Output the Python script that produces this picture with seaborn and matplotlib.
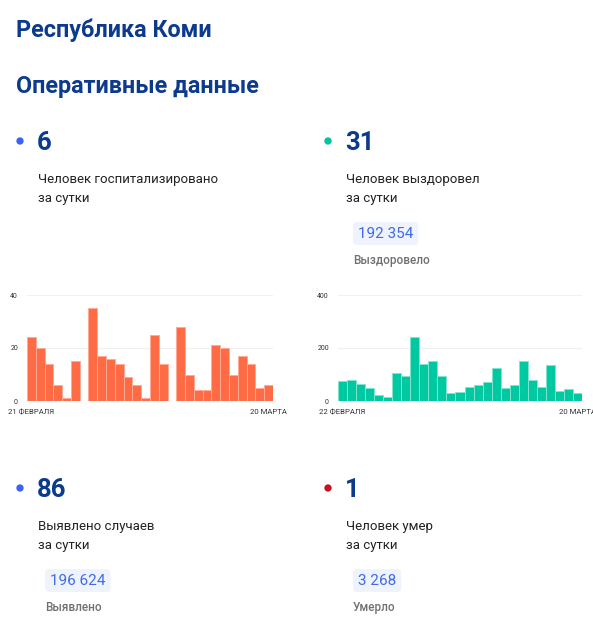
import numpy as np
import pandas as pd
import seaborn as sns
import matplotlib.pyplot as plt
from matplotlib.patches import FancyBboxPatch

# Data
hosp_days = pd.date_range("2021-02-21", "2021-03-20").strftime("%d.%m")
hosp_values = [24, 20, 14, 6, 1, 15, 0, 35, 17, 16, 14, 9, 6, 1, 25, 14, 0,
               28, 10, 4, 4, 21, 20, 10, 17, 14, 5, 6]
hosp_ticks = ["21 ФЕВРАЛЯ", "20 МАРТА"]

recov_days = pd.date_range("2021-02-22", "2021-03-20").strftime("%d.%m")
recov_values = [75, 78, 65, 48, 21, 14, 105, 96, 243, 138, 151, 95, 29, 35,
                54, 61, 72, 126, 49, 61, 152, 78, 54, 135, 38, 46, 31]
recov_ticks = ["22 ФЕВРАЛЯ", "20 МАРТА"]

cards = [
    {"value": "6", "text": ["Человек госпитализировано", "за сутки"],
     "total": None, "label": None, "dot": "#3a63f4"},
    {"value": "31", "text": ["Человек выздоровел", "за сутки"],
     "total": "192 354", "label": "Выздоровело", "dot": "#00c49c"},
    {"value": "86", "text": ["Выявлено случаев", "за сутки"],
     "total": "196 624", "label": "Выявлено", "dot": "#3a63f4"},
    {"value": "1", "text": ["Человек умер", "за сутки"],
     "total": "3 268", "label": "Умерло", "dot": "#c8101e"},
]

sns.set_theme(style="white")
plt.rcParams['font.family'] = ['Roboto', 'DejaVu Sans']

W, H = 593, 621
fig = plt.figure(figsize=(W / 100, H / 100), dpi=100)
fig.patch.set_facecolor("white")

# background axes in pixel coordinates for the text blocks
bg = fig.add_axes([0, 0, 1, 1])
bg.set_xlim(0, W)
bg.set_ylim(H, 0)
bg.axis("off")

navy = "#0c3a8c"
bg.text(16, 37, "Республика Коми", fontsize=16.8, fontweight="bold", color=navy, va="baseline")
bg.text(16, 93, "Оперативные данные", fontsize=16.8, fontweight="bold", color=navy, va="baseline")

fig.canvas.draw()
renderer = fig.canvas.get_renderer()

positions = [(20, 150), (328, 150), (20, 497), (328, 497)]
for card, (x0, base) in zip(cards, positions):
    bg.scatter([x0], [base - 9], s=28, color=card["dot"], edgecolor="none")
    bg.text(x0 + 17, base, card["value"], fontsize=18.5, fontweight="bold", color=navy, va="baseline")
    bg.text(x0 + 18, base + 33, card["text"][0], fontsize=9.5, color="#222222", va="baseline")
    bg.text(x0 + 18, base + 52, card["text"][1], fontsize=9.5, color="#222222", va="baseline")
    if card["total"]:
        t = bg.text(x0 + 30, base + 88, card["total"], fontsize=11,
                    color="#3f6ae8", va="baseline")
        tw = t.get_window_extent(renderer).width
        bg.add_patch(FancyBboxPatch((x0 + 25, base + 72), tw + 10, 23,
                                    boxstyle="round,pad=0,rounding_size=4",
                                    facecolor="#eef3fe", edgecolor="none", zorder=0))
        bg.text(x0 + 25, base + 114, card["label"], fontsize=8.5, fontweight="medium",
                color="#707070", va="baseline")


def bar_chart(rect, days, values, ticks, color, edge, ymax):
    ax = fig.add_axes(rect)
    ax.set_facecolor("none")
    sns.barplot(x=list(days), y=values, color=color, saturation=1, width=1.0,
                edgecolor=edge, linewidth=0.7, ax=ax)
    ax.set_xlim(-0.5, len(values) - 0.5)
    ax.set_ylim(0, ymax)
    ax.set_yticks([0, ymax / 2, ymax])
    ax.set_yticklabels([str(int(v)) for v in [0, ymax / 2, ymax]])
    ax.set_xticks([0, len(values) - 1])
    ax.set_xticklabels(ticks)
    ax.tick_params(axis="y", length=0, pad=6.5, labelsize=5, labelcolor="#333333")
    ax.tick_params(axis="x", length=0, pad=6, labelsize=5.6, labelcolor="#333333")
    ax.yaxis.grid(True, color="#f0f0f0", linewidth=0.8)
    ax.set_axisbelow(True)
    for s in ax.spines.values():
        s.set_visible(False)
    ax.set_xlabel("")
    ax.set_ylabel("")
    return ax


bar_chart([27 / W, (H - 401) / H, 246 / W, 106 / H], hosp_days, hosp_values,
          hosp_ticks, "#ff6b45", "#ffab96", 40)
bar_chart([338 / W, (H - 401) / H, 244 / W, 106 / H], recov_days, recov_values,
          recov_ticks, "#00c8a0", "#80e6d0", 400)

fig.savefig("out.png", dpi=100)
